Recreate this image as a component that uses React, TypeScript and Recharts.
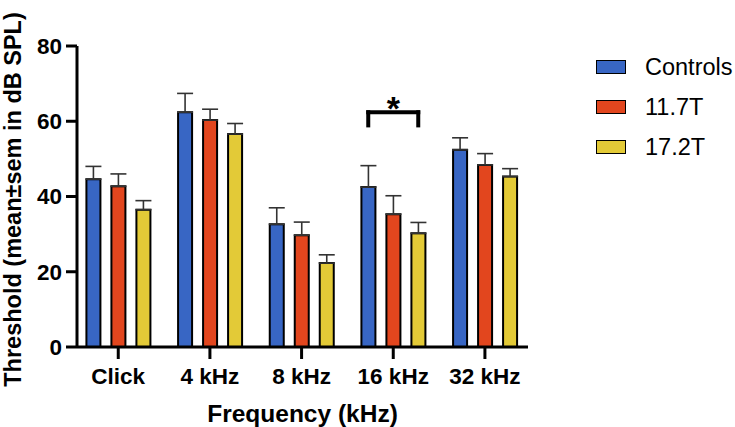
import { Bar, BarChart, ErrorBar, Legend, ReferenceLine, XAxis, YAxis } from "recharts";

const CATEGORIES = ["Click", "4 kHz", "8 kHz", "16 kHz", "32 kHz"];
const SERIES = ["Controls", "11.7T", "17.2T"];
const CONTROLS = [44.6, 62.4, 32.6, 42.5, 52.4];
const CONTROLS_SEM = [3.4, 5.0, 4.4, 5.7, 3.2];
const T117 = [42.7, 60.3, 29.7, 35.3, 48.4];
const T117_SEM = [3.3, 2.9, 3.5, 4.9, 3.0];
const T172 = [36.5, 56.6, 22.3, 30.2, 45.3];
const T172_SEM = [2.4, 2.8, 2.2, 2.9, 2.1];
const Y_TICKS = [0, 20, 40, 60, 80];

// significance bracket over 16 kHz: Controls vs 17.2T
const SIG_CATEGORY = 3;
const SIG_TOP = 62.4;
const SIG_LEG = 58.9;

const COLORS = ["#3866C4", "#E2461E", "#E3CA37"];
const FONT = "'Liberation Sans', Arial, Helvetica, sans-serif";

const W = 735;
const H = 427;
const MARGIN = { top: 46, right: 207, bottom: 0, left: 0 };
const Y_AXIS_W = 77;
const X_AXIS_H = 80;
const X_DOMAIN: [number, number] = [-0.45, 4.47];
const BAR_SIZE = 14;
const BAR_GAP = 11;

const data = CATEGORIES.map((name, i) => ({
  idx: i,
  name,
  controls: CONTROLS[i],
  controlsErr: [0, CONTROLS_SEM[i]],
  t117: T117[i],
  t117Err: [0, T117_SEM[i]],
  t172: T172[i],
  t172Err: [0, T172_SEM[i]],
}));

const plotW = W - MARGIN.left - MARGIN.right - Y_AXIS_W;
const unit = plotW / (X_DOMAIN[1] - X_DOMAIN[0]);
const barStep = (BAR_SIZE + BAR_GAP) / unit;
const sigLeft = SIG_CATEGORY - barStep;
const sigRight = SIG_CATEGORY + barStep;

function YTitle({ viewBox }: any) {
  const x = viewBox.x + 21;
  const cy = viewBox.y + viewBox.height / 2 + 3;
  return (
    <text
      x={x}
      y={cy}
      transform={`rotate(-90, ${x}, ${cy})`}
      textAnchor="middle"
      fontSize={23.5}
      fontWeight={700}
      fill="#000"
    >
      Threshold (mean±sem in dB SPL)
    </text>
  );
}

function LegendContent({ payload }: any) {
  const items = [...(payload || [])].sort(
    (a: any, b: any) => SERIES.indexOf(a.value) - SERIES.indexOf(b.value)
  );
  return (
    <ul style={{ listStyle: "none", margin: 0, padding: 0 }}>
      {items.map((p: any) => (
        <li
          key={p.value}
          style={{ display: "flex", alignItems: "center", height: 40 }}
        >
          <span
            style={{
              display: "inline-block",
              width: 28,
              height: 12,
              background: p.color,
              border: "1.5px solid #000",
              marginRight: 19,
            }}
          />
          <span style={{ fontSize: 23.5, color: "#000" }}>{p.value}</span>
        </li>
      ))}
    </ul>
  );
}

export default function App() {
  const axisStroke = { stroke: "#000", strokeWidth: 3 };
  const tickStyle = { fill: "#000", fontSize: 22.5, fontWeight: 700 };
  return (
    <div style={{ width: W, height: H, fontFamily: FONT }}>
      <style>{"body{margin:0}"}</style>
      <BarChart
        width={W}
        height={H}
        data={data}
        margin={MARGIN}
        barSize={BAR_SIZE}
        barGap={BAR_GAP}
        style={{ fontFamily: FONT }}
      >
        <XAxis
          dataKey="idx"
          type="number"
          domain={X_DOMAIN}
          ticks={[0, 1, 2, 3, 4]}
          interval={0}
          tickFormatter={(v) => CATEGORIES[v]}
          height={X_AXIS_H}
          tickSize={12}
          tickMargin={9}
          axisLine={axisStroke}
          tickLine={axisStroke}
          tick={tickStyle}
          label={{
            value: "Frequency (kHz)",
            position: "insideBottom",
            offset: 5,
            fontSize: 24.5,
            fontWeight: 700,
            fill: "#000",
          }}
        />
        <YAxis
          domain={[0, 80]}
          ticks={Y_TICKS}
          interval={0}
          width={Y_AXIS_W}
          tickSize={11}
          tickMargin={4}
          axisLine={axisStroke}
          tickLine={axisStroke}
          tick={tickStyle}
          label={<YTitle />}
        />
        <Legend
          layout="vertical"
          align="center"
          verticalAlign="middle"
          wrapperStyle={{ left: 596, top: 47, width: 139 }}
          content={<LegendContent />}
        />
        <Bar dataKey="controls" name={SERIES[0]} fill={COLORS[0]} stroke="#000" strokeWidth={2} isAnimationActive={false}>
          <ErrorBar dataKey="controlsErr" direction="y" width={8} stroke="#333" strokeWidth={1.6} />
        </Bar>
        <Bar dataKey="t117" name={SERIES[1]} fill={COLORS[1]} stroke="#000" strokeWidth={2} isAnimationActive={false}>
          <ErrorBar dataKey="t117Err" direction="y" width={8} stroke="#333" strokeWidth={1.6} />
        </Bar>
        <Bar dataKey="t172" name={SERIES[2]} fill={COLORS[2]} stroke="#000" strokeWidth={2} isAnimationActive={false}>
          <ErrorBar dataKey="t172Err" direction="y" width={8} stroke="#333" strokeWidth={1.6} />
        </Bar>
        <ReferenceLine
          segment={[{ x: sigLeft, y: SIG_TOP }, { x: sigRight, y: SIG_TOP }]}
          stroke="#000"
          strokeWidth={4}
          strokeLinecap="square"
          ifOverflow="visible"
          label={{ value: "*", position: "top", offset: -8, fontSize: 34, fontWeight: 700, fill: "#000" }}
        />
        <ReferenceLine
          segment={[{ x: sigLeft, y: SIG_TOP }, { x: sigLeft, y: SIG_LEG }]}
          stroke="#000"
          strokeWidth={4}
          strokeLinecap="square"
          ifOverflow="visible"
        />
        <ReferenceLine
          segment={[{ x: sigRight, y: SIG_TOP }, { x: sigRight, y: SIG_LEG }]}
          stroke="#000"
          strokeWidth={4}
          strokeLinecap="square"
          ifOverflow="visible"
        />
      </BarChart>
    </div>
  );
}
